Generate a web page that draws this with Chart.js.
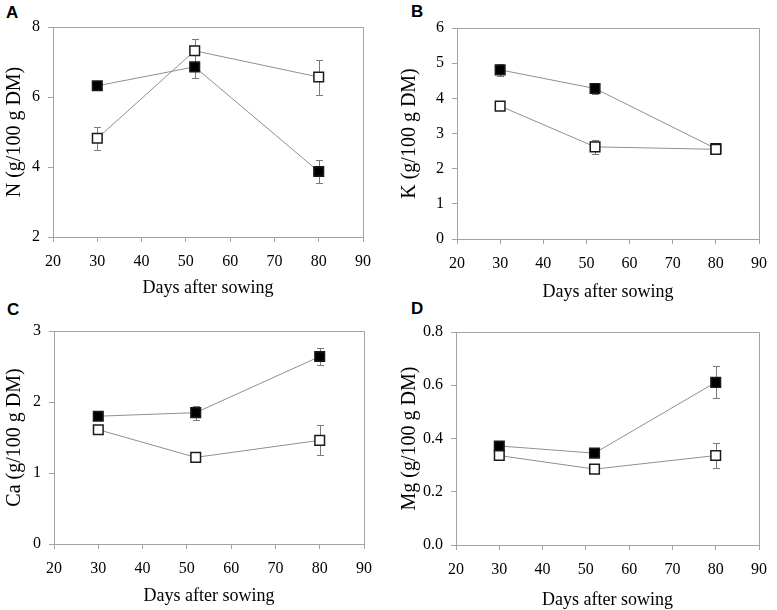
<!DOCTYPE html>
<html>
<head>
<meta charset="utf-8">
<script src="https://cdn.jsdelivr.net/npm/chart.js@4.4.0/dist/chart.umd.min.js"></script>
<style>
  body { margin: 0; background: #fff; width: 777px; height: 610px; position: relative; overflow: hidden; }
  canvas { position: absolute; }
  .letter { position: absolute; font: bold 17px "Liberation Sans", Arial, sans-serif; line-height: 1; color: #000; }
</style>
</head>
<body>
<div class="letter" style="left:6px;top:4px">A</div>
<div class="letter" style="left:411px;top:3px">B</div>
<div class="letter" style="left:7px;top:301px">C</div>
<div class="letter" style="left:411px;top:300px">D</div>
<canvas id="chartA" width="388" height="305" style="left:0;top:0"></canvas>
<canvas id="chartB" width="387" height="305" style="left:390px;top:0"></canvas>
<canvas id="chartC" width="388" height="305" style="left:0;top:305px"></canvas>
<canvas id="chartD" width="387" height="305" style="left:390px;top:305px"></canvas>
<script>
"use strict";

// sampling days (x values) and x axis ticks
let DAYS = [30, 52, 80];
let X_TICKS = [20, 30, 40, 50, 60, 70, 80, 90];

// A - N
let N_FILLED = [6.32, 6.86, 3.87];
let N_FILLED_ERR = [0.08, 0.33, 0.33];
let N_OPEN = [4.82, 7.32, 6.57];
let N_OPEN_ERR = [0.33, 0.34, 0.5];
let N_TICKS = [2, 4, 6, 8];

// B - K
let K_FILLED = [4.81, 4.28, 2.57];
let K_FILLED_ERR = [0.18, 0.17, 0.05];
let K_OPEN = [3.78, 2.62, 2.55];
let K_OPEN_ERR = [0.1, 0.2, 0.08];
let K_TICKS = [0, 1, 2, 3, 4, 5, 6];

// C - Ca
let CA_FILLED = [1.80, 1.85, 2.64];
let CA_FILLED_ERR = [0.04, 0.1, 0.12];
let CA_OPEN = [1.61, 1.22, 1.46];
let CA_OPEN_ERR = [0.04, 0.03, 0.21];
let CA_TICKS = [0, 1, 2, 3];

// D - Mg
let MG_FILLED = [0.372, 0.345, 0.611];
let MG_FILLED_ERR = [0.012, 0.012, 0.06];
let MG_OPEN = [0.336, 0.285, 0.336];
let MG_OPEN_ERR = [0.01, 0.01, 0.048];
let MG_TICKS = [0, 0.2, 0.4, 0.6, 0.8];

let AXIS_GRAY = "#a3a3a3";
let LINE_GRAY = "#8f8f8f";
let SERIF = "'Liberation Serif', 'Times New Roman', serif";

// error bars and the top/right frame, drawn under the markers
let errorBars = {
    id: "errorBars",
    beforeDatasetsDraw: function(chart) {
        let ctx = chart.ctx;
        let x = chart.scales.x;
        let y = chart.scales.y;
        let a = chart.chartArea;
        ctx.save();
        ctx.lineWidth = 1;
        ctx.strokeStyle = AXIS_GRAY;
        ctx.beginPath();
        ctx.moveTo(a.left, Math.round(a.top) + 0.5);
        ctx.lineTo(Math.round(a.right) + 0.5, Math.round(a.top) + 0.5);
        ctx.lineTo(Math.round(a.right) + 0.5, a.bottom);
        ctx.stroke();

        ctx.strokeStyle = "#7a7a7a";
        chart.data.datasets.forEach(function(ds) {
            ds.data.forEach(function(p, i) {
                let e = ds.err[i];
                let px = Math.round(x.getPixelForValue(p.x)) + 0.5;
                let top = Math.round(y.getPixelForValue(p.y + e)) + 0.5;
                let bot = Math.round(y.getPixelForValue(p.y - e)) + 0.5;
                ctx.beginPath();
                ctx.moveTo(px, top);
                ctx.lineTo(px, bot);
                ctx.moveTo(px - 3.5, top);
                ctx.lineTo(px + 3.5, top);
                ctx.moveTo(px - 3.5, bot);
                ctx.lineTo(px + 3.5, bot);
                ctx.stroke();
            });
        });
        ctx.restore();
    }
};

function series(values, errs, fill) {
    return {
        data: DAYS.map(function(d, i) { return { x: d, y: values[i] }; }),
        err: errs,
        borderColor: LINE_GRAY,
        borderWidth: 1,
        pointStyle: "rect",
        pointRadius: 6.8,
        pointBackgroundColor: fill,
        pointBorderColor: "#1a1a1a",
        pointBorderWidth: 1.5,
        tension: 0
    };
}

function makePanel(id, box, yTitle, yTicks, decimals, filled, filledErr, open, openErr) {
    return new Chart(document.getElementById(id), {
        type: "line",
        data: {
            datasets: [
                series(open, openErr, "#ffffff"),
                series(filled, filledErr, "#000000")
            ]
        },
        plugins: [errorBars],
        options: {
            responsive: false,
            animation: false,
            layout: {
                padding: { left: 0, top: box.t, right: box.w - box.r, bottom: 0 }
            },
            plugins: {
                legend: { display: false },
                tooltip: { enabled: false }
            },
            scales: {
                x: {
                    type: "linear",
                    min: X_TICKS[0],
                    max: X_TICKS[X_TICKS.length - 1],
                    afterBuildTicks: function(s) {
                        s.ticks = X_TICKS.map(function(v) { return { value: v }; });
                    },
                    afterFit: function(s) { s.height = box.h - box.b; },
                    grid: {
                        drawOnChartArea: false,
                        color: AXIS_GRAY,
                        tickLength: 5
                    },
                    border: { color: AXIS_GRAY, width: 1 },
                    ticks: {
                        color: "#000",
                        padding: 10,
                        maxRotation: 0,
                        font: { family: SERIF, size: 16 }
                    },
                    title: {
                        display: true,
                        text: "Days after sowing",
                        color: "#000",
                        font: { family: SERIF, size: 18, lineHeight: 1 },
                        padding: { top: 0, bottom: box.xt }
                    }
                },
                y: {
                    type: "linear",
                    min: yTicks[0],
                    max: yTicks[yTicks.length - 1],
                    afterBuildTicks: function(s) {
                        s.ticks = yTicks.map(function(v) { return { value: v }; });
                    },
                    afterFit: function(s) { s.width = box.l; },
                    grid: {
                        drawOnChartArea: false,
                        color: AXIS_GRAY,
                        tickLength: 5
                    },
                    border: { color: AXIS_GRAY, width: 1 },
                    ticks: {
                        color: "#000",
                        padding: 8,
                        font: { family: SERIF, size: 16 },
                        callback: function(v) { return Number(v).toFixed(decimals); }
                    },
                    title: {
                        display: true,
                        text: yTitle,
                        color: "#000",
                        font: { family: SERIF, size: 20, lineHeight: 1 },
                        padding: { top: box.yt, bottom: 0 }
                    }
                }
            }
        }
    });
}

makePanel("chartA", { w: 388, h: 305, l: 53, t: 27, r: 363, b: 237, xt: 8, yt: 5 },
    "N (g/100 g DM)", N_TICKS, 0, N_FILLED, N_FILLED_ERR, N_OPEN, N_OPEN_ERR);
makePanel("chartB", { w: 387, h: 305, l: 67, t: 28, r: 377, b: 239, xt: 4, yt: 10 },
    "K (g/100 g DM)", K_TICKS, 0, K_FILLED, K_FILLED_ERR, K_OPEN, K_OPEN_ERR);
makePanel("chartC", { w: 388, h: 305, l: 54, t: 26, r: 364, b: 239, xt: 5, yt: 5 },
    "Ca (g/100 g DM)", CA_TICKS, 0, CA_FILLED, CA_FILLED_ERR, CA_OPEN, CA_OPEN_ERR);
makePanel("chartD", { w: 387, h: 305, l: 66, t: 27, r: 376, b: 240, xt: 1, yt: 10 },
    "Mg (g/100 g DM)", MG_TICKS, 1, MG_FILLED, MG_FILLED_ERR, MG_OPEN, MG_OPEN_ERR);
</script>
</body>
</html>
